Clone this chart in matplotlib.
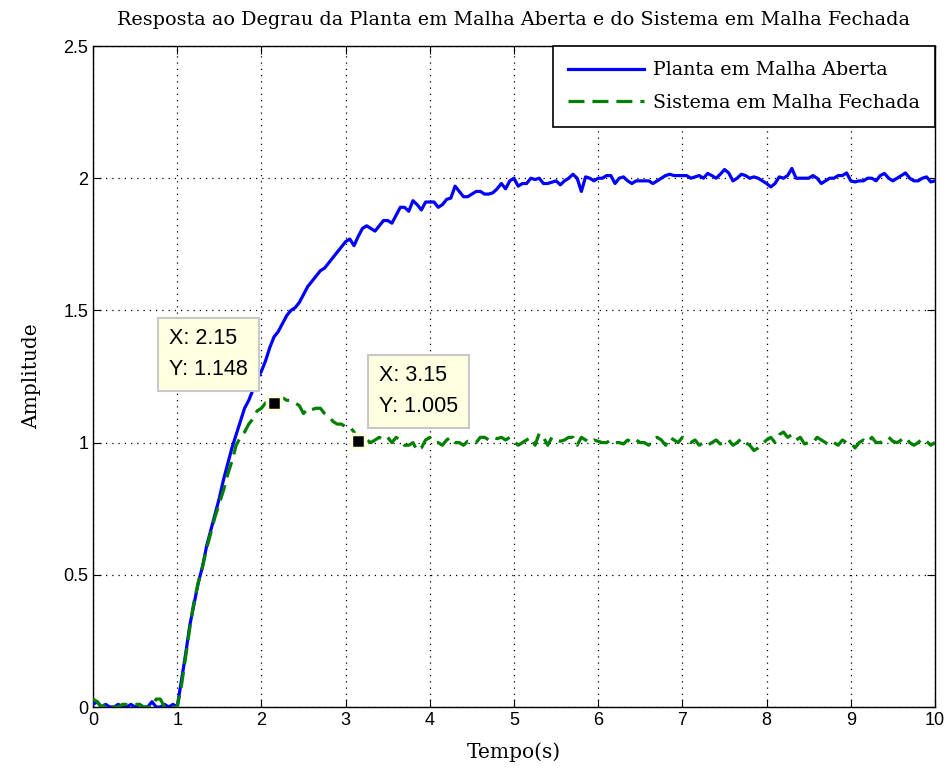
import numpy as np
import matplotlib
matplotlib.use('Agg')
import matplotlib.pyplot as plt

# sample times (s)
t = np.linspace(0, 10, 201)

# open loop plant response
planta = [
    0.01, 0.02, 0.00, 0.01, 0.00, 0.00, 0.01, 0.00, 0.00, 0.01,
    0.00, 0.01, 0.00, 0.00, 0.02, 0.00, 0.00, 0.01, 0.00, 0.01,
    0.00, 0.10, 0.20, 0.31, 0.39, 0.47, 0.53, 0.61, 0.67, 0.73,
    0.79, 0.86, 0.92, 0.98, 1.03, 1.08, 1.13, 1.16, 1.20, 1.24,
    1.27, 1.31, 1.36, 1.40, 1.42, 1.45, 1.48, 1.50, 1.51, 1.53,
    1.56, 1.59, 1.61, 1.63, 1.65, 1.66, 1.68, 1.70, 1.72, 1.74,
    1.76, 1.77, 1.745, 1.78, 1.81, 1.82, 1.81, 1.80, 1.82, 1.84,
    1.84, 1.83, 1.86, 1.89, 1.89, 1.875, 1.915, 1.90, 1.88, 1.91,
    1.91, 1.91, 1.89, 1.90, 1.92, 1.925, 1.97, 1.95, 1.93, 1.93,
    1.94, 1.95, 1.95, 1.94, 1.94, 1.945, 1.96, 1.98, 1.96, 1.99,
    2.00, 1.97, 1.98, 1.98, 2.00, 1.995, 2.00, 1.98, 1.98, 1.985,
    1.99, 1.975, 1.99, 2.00, 2.015, 2.00, 1.95, 2.005, 2.00, 1.99,
    2.00, 2.00, 2.01, 2.01, 1.98, 2.00, 2.005, 1.99, 1.98, 1.99,
    1.99, 1.99, 1.99, 1.98, 1.99, 2.00, 2.01, 2.015, 2.01, 2.01,
    2.01, 2.01, 2.00, 2.005, 2.01, 2.00, 2.018, 2.01, 2.00, 2.015,
    2.033, 2.02, 1.99, 2.00, 2.015, 2.01, 2.00, 2.005, 2.00, 1.99,
    1.98, 1.967, 1.98, 2.005, 2.00, 2.01, 2.037, 2.00, 2.00, 2.00,
    2.00, 2.01, 2.00, 1.98, 1.99, 2.00, 2.00, 2.01, 2.01, 2.02,
    1.99, 1.986, 1.99, 1.99, 2.00, 2.00, 1.99, 2.01, 2.018, 2.00,
    1.99, 2.00, 2.01, 2.02, 2.00, 1.99, 1.99, 2.00, 2.005, 1.986,
    1.99,
]

# closed loop system response
sistema = [
    0.03, 0.02, 0.00, 0.01, 0.00, 0.00, 0.00, 0.01, 0.01, 0.01,
    0.01, 0.01, 0.00, 0.00, 0.00, 0.03, 0.03, 0.00, 0.00, 0.00,
    0.00, 0.08, 0.19, 0.30, 0.40, 0.47, 0.53, 0.60, 0.66, 0.72,
    0.77, 0.82, 0.88, 0.93, 0.99, 1.02, 1.04, 1.07, 1.09, 1.12,
    1.13, 1.15, 1.15, 1.148, 1.16, 1.17, 1.16, 1.16, 1.15, 1.14,
    1.11, 1.13, 1.125, 1.13, 1.13, 1.11, 1.10, 1.08, 1.07, 1.07,
    1.06, 1.06, 1.04, 1.005, 1.01, 1.01, 1.00, 1.01, 1.02, 1.01,
    1.02, 1.00, 1.02, 1.01, 0.99, 0.99, 1.00, 0.97, 0.98, 1.01,
    1.02, 1.00, 1.00, 0.99, 1.01, 1.02, 1.00, 1.00, 0.99, 1.005,
    1.00, 1.00, 1.02, 1.02, 1.01, 1.02, 1.015, 1.02, 1.01, 1.02,
    1.005, 0.99, 1.00, 1.01, 1.02, 0.99, 1.035, 1.02, 0.99, 1.02,
    1.01, 1.005, 1.01, 1.02, 1.02, 0.99, 1.02, 1.01, 1.00, 1.01,
    1.005, 1.00, 1.00, 1.01, 1.00, 1.00, 0.995, 1.01, 1.00, 1.01,
    1.00, 1.00, 0.99, 1.01, 1.02, 1.01, 0.99, 1.02, 1.01, 1.00,
    1.02, 1.01, 1.00, 1.01, 0.99, 1.00, 0.99, 1.00, 1.01, 0.995,
    1.00, 1.01, 0.99, 1.00, 1.015, 1.00, 0.99, 0.97, 0.98, 0.995,
    1.01, 1.02, 1.00, 1.03, 1.04, 1.02, 1.03, 1.01, 1.02, 0.995,
    1.00, 1.00, 1.02, 1.01, 1.00, 0.99, 1.00, 0.99, 1.01, 1.00,
    1.00, 0.98, 1.00, 1.01, 1.00, 1.02, 1.00, 1.00, 1.01, 1.02,
    1.005, 1.00, 1.01, 1.02, 1.00, 0.99, 1.00, 1.015, 1.005, 0.99,
    1.00,
]

# data tips
tip_x = [2.15, 3.15]
tip_y = [1.148, 1.005]
tip_txt = ['X: 2.15\nY: 1.148', 'X: 3.15\nY: 1.005']
tip_off = [(-105, 75), (21, 76)]

serif = 'DejaVu Serif'
sans = 'Liberation Sans'

fig = plt.figure(figsize=(9.5, 7.76), dpi=100)
ax = fig.add_axes([0.0979, 0.0889, 0.8863, 0.8518])

ax.plot(t, planta, color='#0000ff', lw=2.3, label='Planta em Malha Aberta', zorder=3)
ax.plot(t, sistema, color='#008000', lw=2.3, ls=(0, (5, 2.5)), label='Sistema em Malha Fechada', zorder=3)

for x, y, s, off in zip(tip_x, tip_y, tip_txt, tip_off):
    ax.plot(x, y, 's', ms=10, mfc='black', mec='#ffffe1', mew=2.5, zorder=5)
    ax.annotate(s, (x, y), xytext=off, textcoords='offset pixels', ha='left', va='top',
                fontsize=15.5, family=sans, linespacing=1.6, zorder=6,
                bbox=dict(boxstyle='square,pad=0.5', fc='#ffffe1', ec='#c8c8c8', lw=1.5))

ax.set_xlim(0, 10)
ax.set_ylim(0, 2.5)
ax.set_xticks(range(0, 11))
ax.set_yticks([0, 0.5, 1, 1.5, 2, 2.5])
ax.set_yticklabels(['0', '0.5', '1', '1.5', '2', '2.5'])
ax.grid(True, color='black', ls=(0, (1, 4)), lw=0.9)
ax.tick_params(direction='in', top=True, right=True, length=6, labelsize=13)
for lab in ax.get_xticklabels() + ax.get_yticklabels():
    lab.set_family(sans)
for sp in ax.spines.values():
    sp.set_linewidth(1.0)

ax.set_title('Resposta ao Degrau da Planta em Malha Aberta e do Sistema em Malha Fechada',
             family=serif, fontsize=13.8, pad=15)
ax.set_xlabel('Tempo(s)', family=serif, fontsize=14.5, labelpad=10)
ax.set_ylabel('Amplitude', family=serif, fontsize=14.5, labelpad=16)

leg = ax.legend(loc='upper right', prop={'family': serif, 'size': 13.7}, fancybox=False,
                framealpha=1, edgecolor='black', borderaxespad=0, handlelength=4.0,
                borderpad=0.8, labelspacing=0.75, handletextpad=0.45)
leg.get_frame().set_linewidth(1.2)

fig.savefig('out.png', dpi=100)
